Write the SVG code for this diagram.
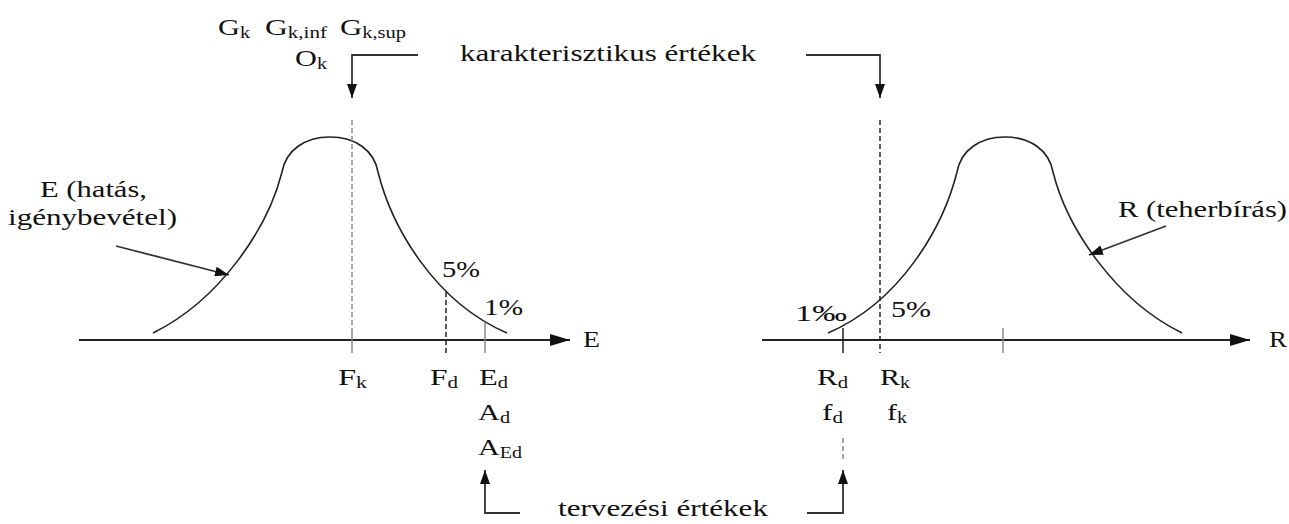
<svg xmlns="http://www.w3.org/2000/svg" width="1289" height="524" viewBox="0 0 1289 524">
<style>
text{font-family:"Liberation Serif","Times New Roman",serif;font-size:24px;fill:#111;}
.sub{font-size:16px;}
.curve{fill:none;stroke:#222;stroke-width:1.6;}
.axis{fill:none;stroke:#222;stroke-width:2;}
.conn{fill:none;stroke:#333;stroke-width:1.8;}
.tick{stroke:#222;stroke-width:1.5;}
.gtick{stroke:#888;stroke-width:1.5;}
.dashg{stroke:#888;stroke-width:1.5;stroke-dasharray:5 3;}
.dashk{stroke:#222;stroke-width:1.5;stroke-dasharray:5 3;}
</style>
<defs>
<marker id="axhead" viewBox="0 0 10 10" refX="10" refY="5" markerUnits="userSpaceOnUse" markerWidth="20" markerHeight="12" orient="auto" preserveAspectRatio="none">
<path d="M0,0 L10,5 L0,10 z" fill="#111"/>
</marker>
<marker id="head" viewBox="0 0 10 10" refX="10" refY="5" markerUnits="userSpaceOnUse" markerWidth="14" markerHeight="10" orient="auto" preserveAspectRatio="none">
<path d="M0,0 L10,5 L0,10 z" fill="#111"/>
</marker>
</defs>

<g id="axis-E">
<line class="axis" x1="79" y1="340" x2="570" y2="340" marker-end="url(#axhead)"/>
<text x="583" y="347" textLength="17" lengthAdjust="spacingAndGlyphs">E</text>
</g>
<g id="axis-R">
<line class="axis" x1="762" y1="340" x2="1250" y2="340" marker-end="url(#axhead)"/>
<text x="1269" y="347" textLength="18" lengthAdjust="spacingAndGlyphs">R</text>
</g>

<g id="curve-E">
<path class="curve" d="M153,333 C220,300 268,228 282,172 C286,150 305,137 330,137 C355,137 374,150 378,172 C392,228 435,302 507,333"/>
<text x="40" y="197" textLength="107" lengthAdjust="spacingAndGlyphs">E (hatás,</text>
<text x="8" y="225" textLength="169" lengthAdjust="spacingAndGlyphs">igénybevétel)</text>
</g>

<g id="curve-R">
<path class="curve" d="M828,333 C900,302 943,228 957,172 C961,150 980,137 1005,137 C1030,137 1049,150 1053,172 C1067,228 1115,300 1182,333"/>
<text x="1118" y="217" textLength="169" lengthAdjust="spacingAndGlyphs">R (teherbírás)</text>
</g>

<g id="marker-Fk">
<line class="dashg" x1="352" y1="120" x2="352" y2="333"/>
<line class="gtick" x1="352" y1="333" x2="352" y2="353"/>
<text x="338" y="385" textLength="29" lengthAdjust="spacingAndGlyphs">F<tspan class="sub" dy="3">k</tspan></text>
</g>
<g id="marker-Fd">
<line class="dashk" x1="446" y1="292" x2="446" y2="353"/>
<text x="442" y="277" textLength="38" lengthAdjust="spacingAndGlyphs">5%</text>
<text x="430" y="385" textLength="28" lengthAdjust="spacingAndGlyphs">F<tspan class="sub" dy="3">d</tspan></text>
</g>
<g id="marker-Ed">
<line class="gtick" x1="485" y1="322" x2="485" y2="353"/>
<text x="484" y="315" textLength="39" lengthAdjust="spacingAndGlyphs">1%</text>
<text x="479" y="385" textLength="29" lengthAdjust="spacingAndGlyphs">E<tspan class="sub" dy="3">d</tspan></text>
<text x="478" y="420" textLength="32" lengthAdjust="spacingAndGlyphs">A<tspan class="sub" dy="3">d</tspan></text>
<text x="478" y="455" textLength="44" lengthAdjust="spacingAndGlyphs">A<tspan class="sub" dy="3">Ed</tspan></text>
</g>

<g id="marker-Rd">
<line class="tick" x1="843" y1="328" x2="843" y2="353"/>
<line class="dashg" x1="843" y1="438" x2="843" y2="462"/>
<text x="795" y="321" textLength="52" lengthAdjust="spacingAndGlyphs">1‰</text>
<text x="817" y="385" textLength="31" lengthAdjust="spacingAndGlyphs">R<tspan class="sub" dy="3">d</tspan></text>
<text x="822" y="420" textLength="21" lengthAdjust="spacingAndGlyphs">f<tspan class="sub" dy="3">d</tspan></text>
</g>
<g id="marker-Rk">
<line class="dashk" x1="880" y1="120" x2="880" y2="353"/>
<text x="891" y="317" textLength="40" lengthAdjust="spacingAndGlyphs">5%</text>
<text x="880" y="385" textLength="30" lengthAdjust="spacingAndGlyphs">R<tspan class="sub" dy="3">k</tspan></text>
<text x="887" y="420" textLength="20" lengthAdjust="spacingAndGlyphs">f<tspan class="sub" dy="3">k</tspan></text>
</g>
<g id="marker-Rmean">
<line class="gtick" x1="1003" y1="328" x2="1003" y2="353"/>
</g>

<g id="label-char">
<text x="218" y="35" textLength="32" lengthAdjust="spacingAndGlyphs">G<tspan class="sub" dy="3">k</tspan></text>
<text x="265" y="35" textLength="62" lengthAdjust="spacingAndGlyphs">G<tspan class="sub" dy="3">k,inf</tspan></text>
<text x="340" y="35" textLength="66" lengthAdjust="spacingAndGlyphs">G<tspan class="sub" dy="3">k,sup</tspan></text>
<text x="295" y="66" textLength="32" lengthAdjust="spacingAndGlyphs">O<tspan class="sub" dy="3">k</tspan></text>
<text x="460" y="61" textLength="296" lengthAdjust="spacingAndGlyphs">karakterisztikus értékek</text>
</g>
<g id="label-design">
<text x="558" y="516" textLength="210" lengthAdjust="spacingAndGlyphs">tervezési értékek</text>
</g>

<g id="connectors">
<polyline class="conn" points="418,55 352,55 352,98" marker-end="url(#head)"/>
<polyline class="conn" points="806,55 880,55 880,98" marker-end="url(#head)"/>
<polyline class="conn" points="520,513 485,513 485,470" marker-end="url(#head)"/>
<polyline class="conn" points="807,513 843,513 843,470" marker-end="url(#head)"/>
<line class="conn" x1="116" y1="246" x2="229" y2="275" marker-end="url(#head)"/>
<line class="conn" x1="1166" y1="226" x2="1089" y2="255" marker-end="url(#head)"/>
</g>
</svg>
